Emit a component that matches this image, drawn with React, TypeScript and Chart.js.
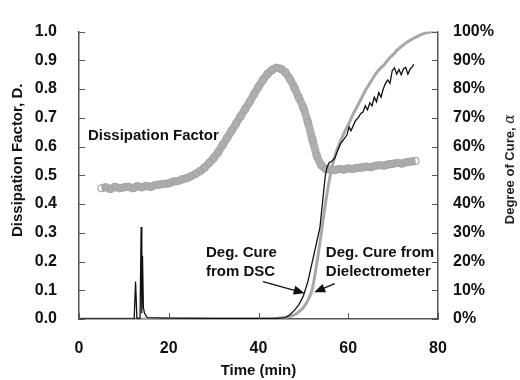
import React, { useEffect, useRef } from "react";
import { Chart, registerables } from "chart.js";

Chart.register(...registerables);

// ---------------- data ----------------
const dfTimes = [5, 6, 7, 8, 9, 10, 11, 12, 13, 14, 15, 16, 17, 18, 19, 20, 21, 22, 23, 24, 25, 26, 27, 28, 29, 30, 31, 32, 33, 34, 35, 36, 37, 38, 39, 40, 41, 42, 43, 44, 45, 46, 47, 48, 49, 50, 51, 52, 53, 54, 55, 56, 57, 58, 59, 60, 61, 62, 63, 64, 65, 66, 67, 68, 69, 70, 71, 72, 73, 74, 75];
const dfValues = [0.455, 0.458, 0.452, 0.46, 0.455, 0.458, 0.46, 0.455, 0.462, 0.458, 0.463, 0.46, 0.466, 0.468, 0.47, 0.472, 0.478, 0.48, 0.486, 0.49, 0.497, 0.505, 0.515, 0.527, 0.543, 0.56, 0.58, 0.605, 0.63, 0.655, 0.68, 0.705, 0.73, 0.755, 0.782, 0.808, 0.832, 0.852, 0.866, 0.874, 0.87, 0.858, 0.835, 0.805, 0.77, 0.735, 0.685, 0.625, 0.568, 0.535, 0.522, 0.52, 0.518, 0.522, 0.52, 0.524, 0.522, 0.526, 0.527, 0.53, 0.528, 0.533, 0.535, 0.534, 0.538, 0.54, 0.543, 0.541, 0.546, 0.548, 0.55];

const dscTimes = [0, 20, 40, 44, 46, 48, 49, 50, 51, 52, 53, 54, 55, 56, 57, 58, 59, 60, 61, 62, 63, 64, 65, 66, 67, 68, 69, 70, 71, 72, 73, 74, 75, 76, 77, 78, 79, 80];
const dscValues = [0, 0, 0, 0.002, 0.006, 0.014, 0.025, 0.04, 0.065, 0.105, 0.195, 0.3, 0.41, 0.5, 0.565, 0.61, 0.645, 0.675, 0.71, 0.74, 0.77, 0.8, 0.825, 0.85, 0.87, 0.885, 0.905, 0.92, 0.937, 0.95, 0.962, 0.972, 0.98, 0.988, 0.994, 0.998, 1.0, 1.0];

const dielTimes = [0, 12.3, 12.6, 12.9, 13.6, 13.85, 14.0, 14.15, 14.35, 14.6, 15.2, 20, 30, 44, 46, 47, 48, 49, 50, 51, 52, 53, 53.7, 54.3, 54.9, 55.3, 55.8, 56.3, 57, 57.6, 58.3, 59, 59.7, 60.2, 60.6, 61.1, 61.6, 62.2, 62.8, 63.3, 63.8, 64.3, 64.8, 65.3, 65.8, 66.3, 66.8, 67.3, 67.8, 68.3, 68.8, 69.3, 69.8, 70.3, 70.8, 71.3, 71.8, 72.3, 72.8, 73.3, 73.8, 74.3, 74.6];
const dielValues = [0, 0, 0.13, 0.003, 0, 0.32, 0.02, 0.22, 0.04, 0.02, 0.005, 0.003, 0.002, 0.002, 0.005, 0.015, 0.03, 0.05, 0.08, 0.13, 0.2, 0.27, 0.32, 0.41, 0.5, 0.53, 0.545, 0.548, 0.56, 0.585, 0.61, 0.625, 0.64, 0.668, 0.655, 0.672, 0.69, 0.7, 0.715, 0.72, 0.742, 0.728, 0.752, 0.742, 0.772, 0.756, 0.788, 0.772, 0.8, 0.82, 0.832, 0.82, 0.864, 0.874, 0.852, 0.868, 0.85, 0.87, 0.876, 0.852, 0.87, 0.878, 0.886];

const xTickValues = [0, 20, 40, 60, 80];
const leftTickLabels = ["0.0", "0.1", "0.2", "0.3", "0.4", "0.5", "0.6", "0.7", "0.8", "0.9", "1.0"];
const rightTickLabels = ["0%", "10%", "20%", "30%", "40%", "50%", "60%", "70%", "80%", "90%", "100%"];

const labelTexts = {
  df: "Dissipation Factor",
  dsc1: "Deg. Cure",
  dsc2: "from DSC",
  die1: "Deg. Cure from",
  die2: "Dielectrometer",
};

// ---------------- layout / style (kept apart from data) ----------------
const FONT = "'Liberation Sans', Arial, Helvetica, sans-serif";
const textPlacement = [
  { key: "df", x: 2, y: 0.638 },
  { key: "dsc1", x: 28.3, y: 0.229 },
  { key: "dsc2", x: 28.3, y: 0.163 },
  { key: "die1", x: 55, y: 0.229 },
  { key: "die2", x: 55, y: 0.163 },
];
const arrowPlacement = [
  { x1: 41.0, y1: 0.13, x2: 50.3, y2: 0.09 },
  { x1: 57.0, y1: 0.123, x2: 52.4, y2: 0.093 },
];

const zip = (xs: number[], ys: number[]) => xs.map((x, i) => ({ x, y: ys[i] }));

const decorPlugin = {
  id: "decor",
  afterDatasetsDraw(chart: any) {
    const { ctx, chartArea, scales } = chart;
    const xs = scales.x;
    const ys = scales.y;
    const y1 = scales.y1;
    ctx.save();
    // inward tick marks
    ctx.strokeStyle = "#555";
    ctx.lineWidth = 1;
    ctx.beginPath();
    ys.ticks.forEach((t: any) => {
      const py = Math.round(ys.getPixelForValue(t.value)) + 0.5;
      ctx.moveTo(chartArea.left, py);
      ctx.lineTo(chartArea.left + 6, py);
    });
    y1.ticks.forEach((t: any) => {
      const py = Math.round(y1.getPixelForValue(t.value)) + 0.5;
      ctx.moveTo(chartArea.right, py);
      ctx.lineTo(chartArea.right - 6, py);
    });
    xs.ticks.forEach((t: any) => {
      const px = Math.round(xs.getPixelForValue(t.value)) + 0.5;
      ctx.moveTo(px, chartArea.bottom);
      ctx.lineTo(px, chartArea.bottom - 6);
    });
    ctx.stroke();

    // annotation texts
    ctx.fillStyle = "#111";
    ctx.font = `bold 15px ${FONT}`;
    ctx.textBaseline = "middle";
    ctx.textAlign = "left";
    textPlacement.forEach((p) => {
      ctx.fillText((labelTexts as any)[p.key], xs.getPixelForValue(p.x), ys.getPixelForValue(p.y));
    });

    // arrows
    ctx.strokeStyle = "#111";
    ctx.lineWidth = 1.3;
    arrowPlacement.forEach((a) => {
      const x1 = xs.getPixelForValue(a.x1);
      const yy1 = ys.getPixelForValue(a.y1);
      const x2 = xs.getPixelForValue(a.x2);
      const yy2 = ys.getPixelForValue(a.y2);
      const ang = Math.atan2(yy2 - yy1, x2 - x1);
      const L = 11;
      const W = 4.5;
      const c = Math.cos(ang);
      const s = Math.sin(ang);
      ctx.beginPath();
      ctx.moveTo(x1, yy1);
      ctx.lineTo(x2 - L * c * 0.8, yy2 - L * s * 0.8);
      ctx.stroke();
      ctx.beginPath();
      ctx.moveTo(x2, yy2);
      ctx.lineTo(x2 - L * c + W * s, yy2 - L * s - W * c);
      ctx.lineTo(x2 - L * c - W * s, yy2 - L * s + W * c);
      ctx.closePath();
      ctx.fill();
    });

    // left axis title (placed like the reference, slightly above centre)
    ctx.save();
    ctx.translate(18, (chartArea.top + chartArea.bottom) / 2 - 15);
    ctx.rotate(-Math.PI / 2);
    ctx.textAlign = "center";
    ctx.textBaseline = "middle";
    ctx.font = `bold 15px ${FONT}`;
    ctx.fillStyle = "#111";
    ctx.fillText("Dissipation Factor, D.", 0, 0);
    ctx.restore();

    // right axis title (reads bottom to top)
    const main = "Degree of Cure, ";
    ctx.font = `bold 13px ${FONT}`;
    const w1 = ctx.measureText(main).width;
    ctx.font = `italic 14px 'DejaVu Serif', 'Liberation Serif', serif`;
    const w2 = ctx.measureText("α").width;
    const total = w1 + w2;
    const cx = chartArea.right + 72;
    const cy = (chartArea.top + chartArea.bottom) / 2 - 6;
    ctx.translate(cx, cy);
    ctx.rotate(-Math.PI / 2);
    ctx.textAlign = "left";
    ctx.textBaseline = "middle";
    ctx.font = `bold 13px ${FONT}`;
    ctx.fillStyle = "#222";
    ctx.fillText(main, -total / 2, 0);
    ctx.font = `italic 14px 'DejaVu Serif', 'Liberation Serif', serif`;
    ctx.fillText("α", -total / 2 + w1, 0);
    ctx.restore();
  },
};

export default function App() {
  const ref = useRef<HTMLCanvasElement | null>(null);

  useEffect(() => {
    if (!ref.current) return;
    Chart.defaults.font.family = FONT;
    const chart = new Chart(ref.current, {
      type: "line",
      data: {
        datasets: [
          {
            label: "Deg. Cure from Dielectrometer",
            data: zip(dielTimes, dielValues),
            borderColor: "#111",
            borderWidth: 1.3,
            pointRadius: 0,
            tension: 0,
            fill: false,
          },
          {
            label: "Dissipation Factor",
            data: zip(dfTimes, dfValues),
            borderColor: "#b0b0b0",
            borderWidth: 8,
            pointRadius: 3.5,
            pointBorderColor: "#a6a6a6",
            pointBackgroundColor: "rgba(0,0,0,0)",
            pointBorderWidth: 1.2,
            tension: 0.3,
            fill: false,
          },
          {
            label: "Deg. Cure from DSC",
            data: zip(dscTimes, dscValues),
            borderColor: "#a8a8a8",
            borderWidth: 3,
            pointRadius: 0,
            cubicInterpolationMode: "monotone",
            fill: false,
          },
        ],
      },
      options: {
        animation: false,
        responsive: false,
        devicePixelRatio: 1,
        layout: { padding: { left: 0, top: 18, right: 0, bottom: 0 } },
        plugins: {
          legend: { display: false },
          tooltip: { enabled: false },
        },
        scales: {
          x: {
            type: "linear",
            min: 0,
            max: 80,
            afterBuildTicks: (s: any) => {
              s.ticks = xTickValues.map((v) => ({ value: v }));
            },
            ticks: {
              font: { size: 16, weight: "bold" },
              color: "#111",
              padding: 20,
              maxRotation: 0,
            },
            grid: { display: false, drawTicks: false },
            border: { display: true, color: "#555", width: 1.5 },
            title: {
              display: true,
              text: "Time (min)",
              font: { size: 15, weight: "bold" },
              color: "#111",
              padding: { top: 0, bottom: 0 },
            },
            afterFit: (s: any) => {
              s.height = 61;
            },
          },
          y: {
            type: "linear",
            position: "left",
            min: 0,
            max: 1,
            afterBuildTicks: (s: any) => {
              s.ticks = leftTickLabels.map((l) => ({ value: parseFloat(l) }));
            },
            ticks: {
              font: { size: 16, weight: "bold" },
              color: "#111",
              padding: 22,
              callback: (_v: any, i: number) => leftTickLabels[i],
            },
            grid: { display: false, drawTicks: false },
            border: { display: true, color: "#555", width: 1.5 },
            title: { display: false },
            afterFit: (s: any) => {
              s.width = 79;
            },
          },
          y1: {
            type: "linear",
            position: "right",
            min: 0,
            max: 100,
            afterBuildTicks: (s: any) => {
              s.ticks = rightTickLabels.map((l) => ({ value: parseFloat(l) }));
            },
            ticks: {
              font: { size: 16, weight: "bold" },
              color: "#111",
              padding: 15,
              callback: (_v: any, i: number) => rightTickLabels[i],
            },
            grid: { display: false, drawTicks: false },
            border: { display: true, color: "#555", width: 1.5 },
            afterFit: (s: any) => {
              s.width = 82;
            },
          },
        },
      } as any,
      plugins: [decorPlugin],
    });
    return () => chart.destroy();
  }, []);

  return (
    <div style={{ position: "fixed", left: 0, top: 0, width: 520, height: 380, background: "#fff" }}>
      <canvas ref={ref} width={520} height={380} style={{ width: 520, height: 380, display: "block" }} />
    </div>
  );
}
